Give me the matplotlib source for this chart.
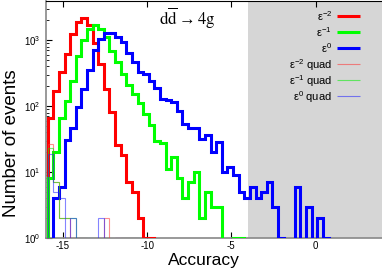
import numpy as np
import matplotlib
matplotlib.use("Agg")
import matplotlib.pyplot as plt
from matplotlib.ticker import LogLocator, NullFormatter

plt.rcParams["font.family"] = ["Liberation Sans", "DejaVu Sans"]
plt.rcParams["mathtext.fontset"] = "custom"
plt.rcParams["mathtext.rm"] = "Liberation Sans"
plt.rcParams["mathtext.default"] = "regular"
plt.rcParams["axes.unicode_minus"] = False

# histogram binning: 1/3-wide bins
BIN_START = -15.9
BIN_WIDTH = 1.0 / 3.0
N_BINS = 60

# thick histograms (counts per bin)
eps_m2 = [65, 170, 330, 610, 1260, 1900, 2150, 1700, 920, 440,
          185, 82, 26, 18, 7, 5, 2, 1, 1]
eps_m1 = [8, 20, 67, 120, 240, 580, 1000, 1470, 1700, 1500,
          1120, 690, 460, 310, 210, 155, 110, 76, 52, 30,
          28, 11, 17, 8, 4, 7, 10, 2, 5, 3,
          3, 0, 0, 1, 1]
eps_0 = [0, 4, 6, 31, 47, 97, 180, 350, 720, 1050,
         1280, 1280, 1120, 940, 650, 460, 330, 310, 240, 190,
         130, 123, 116, 85, 54, 47, 47, 32, 37, 20,
         29, 10, 12, 9, 5, 4, 6, 4, 5, 7,
         3, 1, 0, 0, 6, 0, 3, 0, 2, 1]

# thin "quad" histograms
eps_m2_quad = [27, 7, 2, 2, 1, 1, 1, 0, 1, 0, 2, 0, 1, 1, 1, 1]
eps_m1_quad = [23, 7, 2, 2, 2, 1, 1, 1, 1, 0, 1, 0, 0, 1, 1, 1, 1, 1]
eps_0_quad = [19, 5, 4, 1, 2, 1, 1, 1, 0, 2, 0, 0, 1, 1, 1, 1, 1, 1]

labels = ["ε$^{-2}$", "ε$^{-1}$", "ε$^{0}$",
          "ε$^{-2}$ quad", "ε$^{-1}$ quad", "ε$^{0}$ quad"]

edges = BIN_START + BIN_WIDTH * np.arange(N_BINS + 1)


def padded(vals):
    v = np.zeros(N_BINS)
    v[:len(vals)] = vals
    # empty bins drop below the log axis
    return np.where(v > 0, v, 1e-2)


fig = plt.figure(figsize=(3.82, 2.68), dpi=100)
ax = fig.add_axes([46 / 382, 30 / 268, 337 / 382, 237.5 / 268])

ax.axvspan(-4, 4, color="#d6d6d6", lw=0, zorder=0)

series = [
    (eps_m2, "#ff0000", 2.2, 1.0),
    (eps_m1, "#00ff00", 2.2, 1.0),
    (eps_0, "#0000ff", 2.2, 1.0),
    (eps_m2_quad, "#ff3030", 0.8, 0.55),
    (eps_m1_quad, "#00ee00", 0.8, 0.55),
    (eps_0_quad, "#2020ff", 0.8, 0.55),
]

for i, ((vals, col, lw, alpha), lab) in enumerate(zip(series, labels)):
    ax.stairs(padded(vals), edges, baseline=1e-2, color=col, lw=lw,
              alpha=alpha, zorder=3 + (i >= 3))
    # legend entry, text right-aligned, sample line to the right
    yrow = 1 - (15 + 16 * i) / 237.5
    ax.text(0.849, yrow, lab, transform=ax.transAxes, ha="right",
            va="center_baseline", fontsize=8.0)
    ax.plot([0.863, 0.932], [yrow, yrow], transform=ax.transAxes,
            color=col, lw=lw, alpha=alpha, solid_capstyle="butt")

ax.set_xlim(-16, 4)
ax.set_ylim(1, 4000)
ax.set_yscale("log")
ax.set_xticks([-15, -10, -5, 0])
ax.yaxis.set_minor_locator(LogLocator(base=10, subs=np.arange(2, 10)))
ax.yaxis.set_minor_formatter(NullFormatter())
ax.tick_params(which="both", direction="in", top=True, right=False,
               labelsize=7, pad=4)
ax.tick_params(axis="x", pad=2.5)
ax.tick_params(which="major", length=4)
ax.tick_params(which="minor", length=2)

for s in ["left", "bottom"]:
    ax.spines[s].set_color("#888888")
    ax.spines[s].set_linewidth(1.2)
ax.spines["right"].set_visible(False)
ax.spines["top"].set_color("black")

ax.set_xlabel("Accuracy", fontsize=12.5)
ax.set_ylabel("Number of events", fontsize=13.5)
ax.xaxis.set_label_coords(0.47, -0.062)
ax.yaxis.set_label_coords(-0.101, 0.40)
ax.yaxis.label.set_va("center")

ax.text(0.418, 0.925, r"$\mathrm{d\overline{d}} \rightarrow \mathrm{4g}$",
        transform=ax.transAxes, ha="center", va="center", fontsize=12,
        math_fontfamily="stix")

fig.savefig("out.png", dpi=100)
